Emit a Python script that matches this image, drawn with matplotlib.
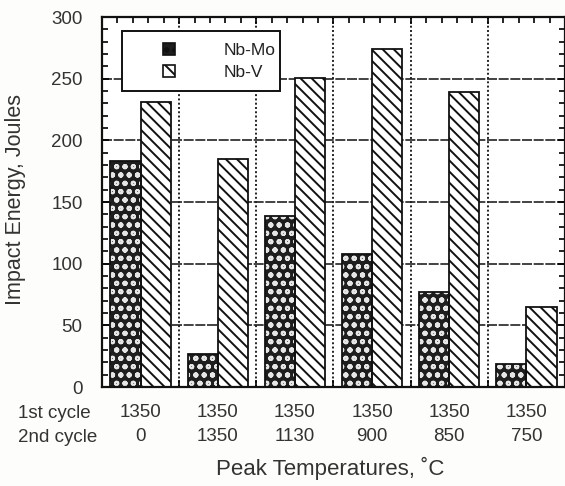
import numpy as np
import matplotlib.pyplot as plt
from matplotlib.ticker import MultipleLocator
from matplotlib.patches import Patch, Rectangle

plt.rcParams['font.family'] = ['Liberation Sans', 'DejaVu Sans']
plt.rcParams['hatch.linewidth'] = 1.4

first_cycle = ['1350', '1350', '1350', '1350', '1350', '1350']
second_cycle = ['0', '1350', '1130', '900', '850', '750']
nb_mo = [183, 27, 139, 108, 77, 19]
nb_v = [231, 185, 251, 274, 239, 65]

txt = '#333333'

fig = plt.figure(figsize=(5.65, 4.86), dpi=100)
ax = fig.add_axes([0.1805, 0.2037, 0.8195, 0.761])

x = np.arange(len(nb_mo)) + 0.5
w = 0.39

# gridlines behind bars
for yv in range(50, 300, 50):
    ax.axhline(yv, color='#222222', lw=1.2, ls=(0, (6, 1)), zorder=0)
for xv in range(1, 6):
    ax.axvline(xv, color='#222222', lw=1.4, ls=(0, (1, 1.2)), zorder=0)

# Nb-Mo: dark speckled fill
ax.bar(x - w / 2, nb_mo, w, color='#1e1e1e', hatch='oo', edgecolor='#e6e6e6',
       linewidth=0, zorder=2)
ax.bar(x - w / 2, nb_mo, w, fill=False, edgecolor='#111111', linewidth=1.3, zorder=3)
# Nb-V: diagonal hatch
ax.bar(x + w / 2, nb_v, w, color='white', hatch='\\\\\\', edgecolor='#111111',
       linewidth=1.3, zorder=2)

ax.set_xlim(0, 6)
ax.set_ylim(0, 300)

ax.set_yticks(range(0, 301, 50))
ax.yaxis.set_minor_locator(MultipleLocator(10))
ax.set_xticks(range(0, 7))
ax.xaxis.set_minor_locator(MultipleLocator(0.2))
ax.set_xticklabels([])
ax.tick_params(axis='both', which='both', direction='in', top=True, right=True)
ax.tick_params(axis='both', which='major', length=5, width=1.2)
ax.tick_params(axis='both', which='minor', length=4, width=1.2)
ax.tick_params(axis='y', labelsize=13.5, labelcolor=txt, pad=14)
for s in ax.spines.values():
    s.set_linewidth(1.6)
    s.set_color('#111111')

# two-row x labels
for xi, a, b in zip(x, first_cycle, second_cycle):
    ax.text(xi, -0.07, a, transform=ax.get_xaxis_transform(), ha='center', va='center',
            fontsize=13.5, color=txt)
    ax.text(xi, -0.135, b, transform=ax.get_xaxis_transform(), ha='center', va='center',
            fontsize=13.5, color=txt)
fig.text(0.032, 1 - 413 / 486, '1st cycle', ha='left', va='center', fontsize=13.5, color=txt)
fig.text(0.032, 1 - 437 / 486, '2nd cycle', ha='left', va='center', fontsize=13.5, color=txt)

fig.text(0.585, 1 - 468 / 486, 'Peak Temperatures, ˚C', ha='center', va='center',
         fontsize=16, color=txt)
fig.text(0.028, 0.59, 'Impact Energy, Joules', ha='center', va='center', rotation=90,
         fontsize=15.5, color=txt)

# legend: box drawn separately, entries placed inside it
box = Rectangle((0.043, 0.8), 0.341, 0.162, transform=ax.transAxes, facecolor='white',
                edgecolor='#111111', linewidth=1.4, zorder=5)
ax.add_patch(box)
handles = [Patch(facecolor='#1e1e1e', hatch='oo', edgecolor='#111111', linewidth=1.2),
           Patch(facecolor='white', hatch='\\\\', edgecolor='#111111', linewidth=1.2)]
leg = ax.legend(handles, ['Nb-Mo', 'Nb-V'], loc='upper left', bbox_to_anchor=(0.132, 0.93),
                frameon=False, fontsize=12.5, handlelength=0.7, handleheight=0.7,
                borderpad=0, labelspacing=0.4, handletextpad=2.8, borderaxespad=0)
leg.set_zorder(6)
for t in leg.get_texts():
    t.set_color('#222222')

fig.savefig('out.png', dpi=100, facecolor='#fdfdfb')
